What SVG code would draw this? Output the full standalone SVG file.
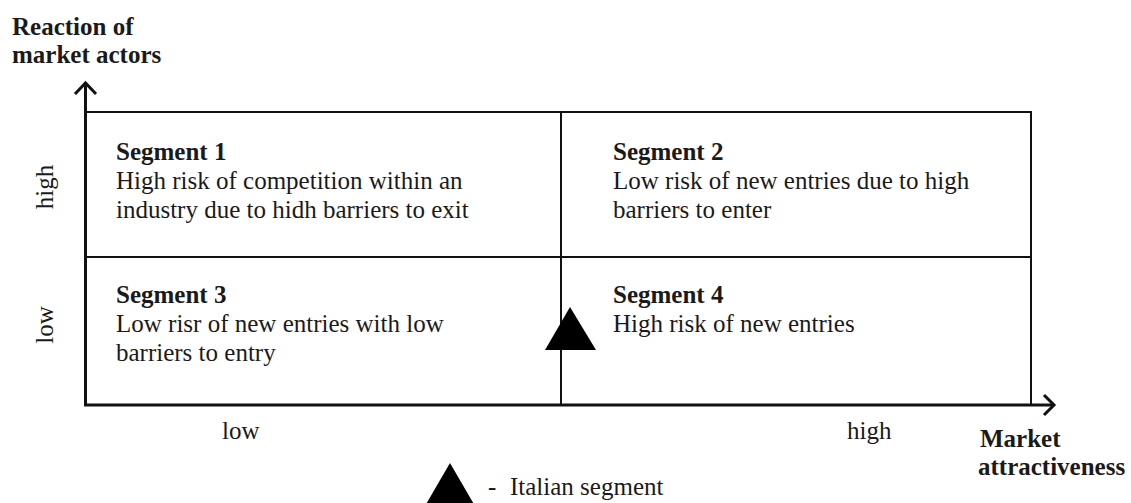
<svg xmlns="http://www.w3.org/2000/svg" width="1131" height="503" viewBox="0 0 1131 503">
<style>
text{font-family:"Liberation Serif","Times New Roman",serif;font-size:25px;fill:#1a1a1a}
.b{font-weight:bold}
.ln{stroke:#111;fill:none}
.ax{stroke:#111;stroke-width:3;fill:none}
.tri{fill:#000}
</style>
<rect width="1131" height="503" fill="#fff"/>
<g id="axis-labels">
<text class="b" x="12" y="35">Reaction of</text>
<text class="b" x="12" y="63">market actors</text>
<text class="b" x="980" y="447">Market</text>
<text class="b" x="978" y="475">attractiveness</text>
<text x="222" y="439">low</text>
<text x="847" y="439">high</text>
<text transform="translate(53,187) rotate(-90)" text-anchor="middle">high</text>
<text transform="translate(53,325) rotate(-90)" text-anchor="middle">low</text>
</g>
<g id="grid">
<rect class="ln" x="86" y="112" width="945" height="293" stroke-width="2"/>
<line class="ln" x1="86" y1="257" x2="1031" y2="257" stroke-width="2"/>
<line class="ln" x1="561" y1="112" x2="561" y2="405" stroke-width="2"/>
</g>
<g id="connectors">
<line class="ax" x1="85.5" y1="406" x2="85.5" y2="83"/>
<polyline class="ax" points="75,94 85.5,83 96,94"/>
<line class="ax" x1="84" y1="405" x2="1054" y2="405"/>
<polyline class="ax" points="1044,395 1054,405 1044,415"/>
</g>
<g id="segment1">
<text class="b" x="116" y="160">Segment 1</text>
<text x="116" y="189">High risk of competition within an</text>
<text x="116" y="218">industry due to hidh barriers to exit</text>
</g>
<g id="segment2">
<text class="b" x="613" y="160">Segment 2</text>
<text x="613" y="189">Low risk of new entries due to high</text>
<text x="613" y="218">barriers to enter</text>
</g>
<g id="segment3">
<text class="b" x="116" y="303">Segment 3</text>
<text x="116" y="332">Low risr of new entries with low</text>
<text x="116" y="361">barriers to entry</text>
</g>
<g id="segment4">
<text class="b" x="613" y="303">Segment 4</text>
<text x="613" y="332">High risk of new entries</text>
</g>
<g id="italian-marker">
<polygon class="tri" points="570,307 545,350 596,350"/>
</g>
<g id="legend">
<polygon class="tri" points="450,463 425,506 475,506"/>
<text x="488" y="495">-</text>
<text x="510" y="495">Italian segment</text>
</g>
</svg>
